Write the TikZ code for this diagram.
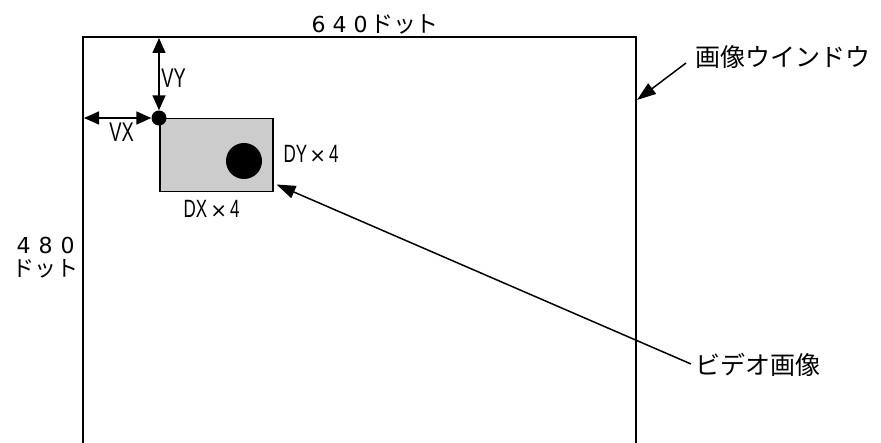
\documentclass[tikz,border=0pt]{standalone}
\usepackage{fontspec}
\usepackage{graphicx}
\setmainfont{Liberation Sans}
\newfontfamily\jpfont{Noto Sans CJK JP}
\newfontfamily\dvfont{DejaVu Sans}
\newcommand\fwcell[2]{\makebox[#1][c]{#2}}
\newcommand\narrowtxt[1]{\scalebox{0.68}[1]{#1}}
\newcommand\timesmark{{\dvfont\fontsize{20}{20}\selectfont ×}}
\usetikzlibrary{arrows.meta,calc}
\begin{document}
\begin{tikzpicture}[x=1pt,y=-1pt,
  win/.style={line width=2pt},
  dimarrow/.style={line width=1.6pt, {Triangle[length=15pt,width=13pt]}-{Triangle[length=15pt,width=13pt]}},
  callout/.style={line width=1.5pt, -{Triangle[length=19pt,width=13pt]}},
  lbl/.style={inner sep=0pt, font=\fontsize{25}{25}\selectfont},
  jp/.style={inner sep=0pt, font=\jpfont\fontsize{25}{25}\selectfont},
  dimtxt/.style={inner sep=0pt, anchor=base west},
]
\useasboundingbox (0,0) rectangle (881,443);
% window
\coordinate (wbl) at (83,443);
\coordinate (wtl) at (83,37);
\coordinate (wtr) at (636,37);
\coordinate (wbr) at (636,443);
\draw[win] (wbl) -- (wtl) -- (wtr) -- (wbr);
% video image
\node[draw, line width=1.5pt, fill=gray!40, minimum width=113pt, minimum height=73pt, anchor=north west, inner sep=0pt] (video) at (159,118) {};
\node[circle, fill=black, minimum size=36pt, inner sep=0pt] (blob) at (244,161) {};
\node[circle, fill=black, minimum size=15pt, inner sep=0pt] (corner) at (159,118) {};
% offsets
\coordinate (vytop) at (159,38);
\coordinate (vxleft) at (84,118);
\draw[dimarrow] (corner) -- (vytop);
\draw[dimarrow] (corner) -- (vxleft);
\node[lbl, font=\fontsize{27}{27}\selectfont] (vy) at (173.5,78) {\narrowtxt{VY}};
\node[lbl, font=\fontsize{27}{27}\selectfont] (vx) at (121.5,132) {\narrowtxt{VX}};
\node[lbl, anchor=west] (dy) at (283.5,154) {\narrowtxt{DY}\hspace{2pt}\timesmark\hspace{3pt}\narrowtxt{4}};
\node[lbl, anchor=west] (dx) at (183.5,208.5) {\narrowtxt{DX}\hspace{3pt}\timesmark\hspace{3pt}\narrowtxt{4}};
% sizes
\node[dimtxt] (w640) at (308,33) {\dvfont\fontsize{22}{22}\selectfont\fwcell{21pt}{6}\fwcell{21pt}{4}\fwcell{21pt}{0}{\jpfont\fontsize{23}{23}\selectfont\fwcell{22.5pt}{ド}\fwcell{22.5pt}{ッ}\fwcell{22.5pt}{ト}}};
\node[dimtxt] (h480) at (12.5,254) {\dvfont\fontsize{22}{22}\selectfont\fwcell{22pt}{4}\fwcell{22pt}{8}\fwcell{22pt}{0}};
\node[dimtxt] (hdot) at (12.5,277) {\jpfont\fontsize{22}{22}\selectfont\fwcell{22pt}{ド}\fwcell{22pt}{ッ}\fwcell{22pt}{ト}};
% callouts
\node[jp, anchor=west] (winlbl) at (695,57) {画像ウインドウ};
\node[jp, anchor=west] (vidlbl) at (695,365) {ビデオ画像};
\coordinate (wtip) at (637,100);
\draw[callout] ($(winlbl.west)+(-9,6)$) -- (wtip);
\draw[callout] ($(vidlbl.west)+(-4,-1)$) -- ($(video.south east)+(3,-8)$);
\end{tikzpicture}
\end{document}
